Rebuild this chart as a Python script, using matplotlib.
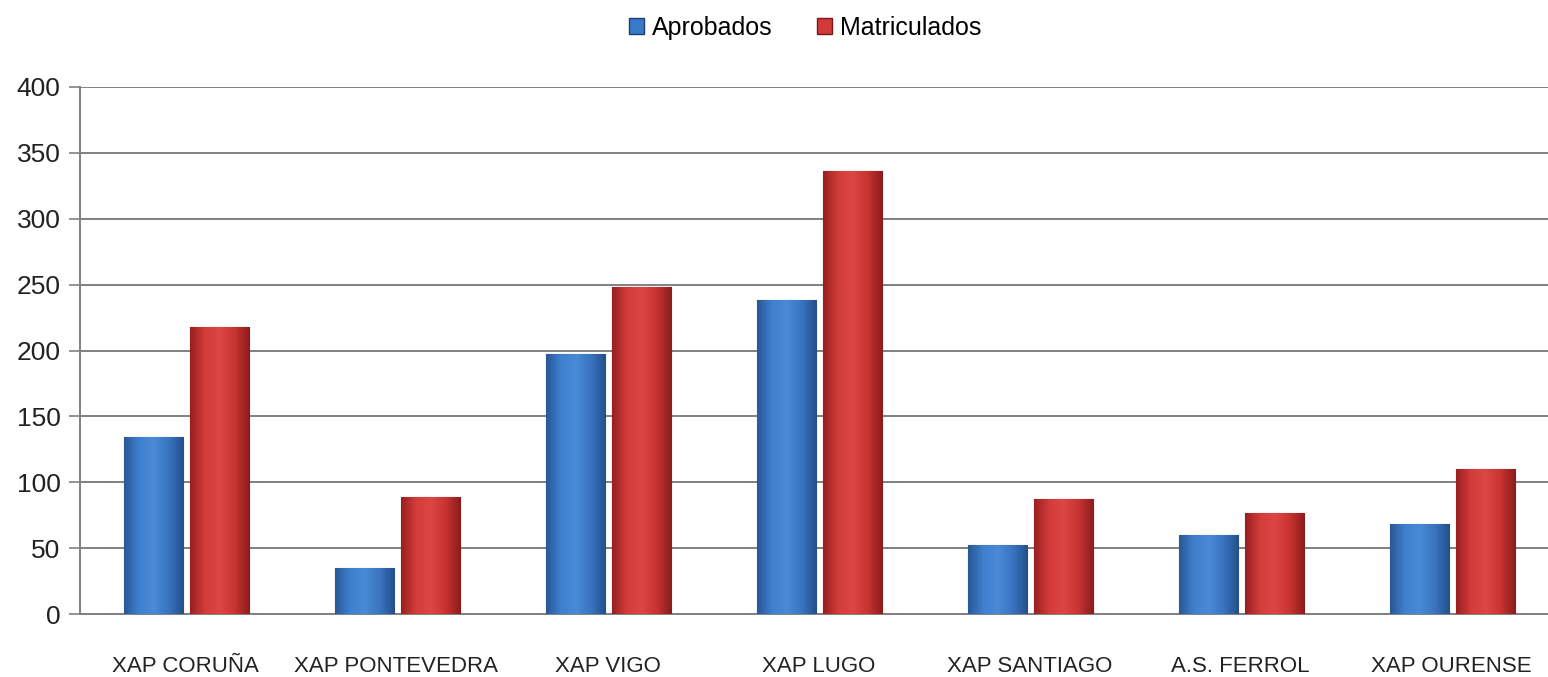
import numpy as np
import matplotlib
matplotlib.use("Agg")
from matplotlib import pyplot as plt
from matplotlib.colors import LinearSegmentedColormap
from matplotlib.patches import Patch

categories = ["XAP CORUÑA", "XAP PONTEVEDRA", "XAP VIGO", "XAP LUGO",
              "XAP SANTIAGO", "A.S. FERROL", "XAP OURENSE"]
aprobados = [134, 35, 197, 238, 52, 60, 68]
matriculados = [218, 89, 248, 336, 87, 77, 110]

plt.rcParams['font.family'] = ['Liberation Sans Narrow', 'Liberation Sans', 'DejaVu Sans']

blue_cm = LinearSegmentedColormap.from_list('b', ['#2a5898', '#3f80cf', '#4a8ad6', '#3a74c0', '#24508c'])
red_cm = LinearSegmentedColormap.from_list('r', ['#9a2020', '#d23c3a', '#dc4644', '#c83432', '#8c1c1c'])

fig = plt.figure(figsize=(15.48, 6.77), dpi=100)
ax = fig.add_axes([80 / 1548, 1 - 614 / 677, 1477 / 1548, 527 / 677])

x = np.arange(len(categories))
w = 0.28
b1 = ax.bar(x - 0.152, aprobados, w, color='#3a78c8', edgecolor='#1e3f70', linewidth=0.8, zorder=3)
b2 = ax.bar(x + 0.16, matriculados, w, color='#d03a38', edgecolor='#7a1818', linewidth=0.8, zorder=3)

# horizontal shading inside each bar
grad = np.linspace(0, 1, 64).reshape(1, -1)
for bars, cm in [(b1, blue_cm), (b2, red_cm)]:
    for p in bars:
        x0, y0 = p.get_x(), p.get_y()
        im = ax.imshow(grad, cmap=cm, aspect='auto', zorder=3.5,
                       extent=[x0, x0 + p.get_width(), y0, y0 + p.get_height()])
        im.set_clip_path(p)

ax.set_xlim(-0.5, len(categories) - 0.5)
ax.set_ylim(0, 400)
ax.set_yticks(range(0, 401, 50))
ax.yaxis.grid(True, color='#808080', linewidth=1.4, zorder=0)
ax.set_axisbelow(True)
for s in ['top', 'right']:
    ax.spines[s].set_visible(False)
for s in ['left', 'bottom']:
    ax.spines[s].set_color('#808080')
    ax.spines[s].set_linewidth(1.4)
ax.tick_params(axis='y', length=8, width=1.2, color='#808080', labelsize=19, pad=6, labelcolor='#222222')
ax.tick_params(axis='x', length=0, labelsize=16, pad=30, labelcolor='#222222')
ax.set_xticks(x)
ax.set_xticklabels(categories)

handles = [Patch(facecolor='#3a78c8', edgecolor='#1e3f70'),
           Patch(facecolor='#d03a38', edgecolor='#7a1818')]
fig.legend(handles, ['Aprobados', 'Matriculados'], loc='center', bbox_to_anchor=(0.52, 1 - 28 / 677),
           ncol=2, frameon=False, fontsize=18, handlelength=0.6, handleheight=0.6,
           handletextpad=0.3, columnspacing=1.8)

fig.savefig('out.png', dpi=100)
